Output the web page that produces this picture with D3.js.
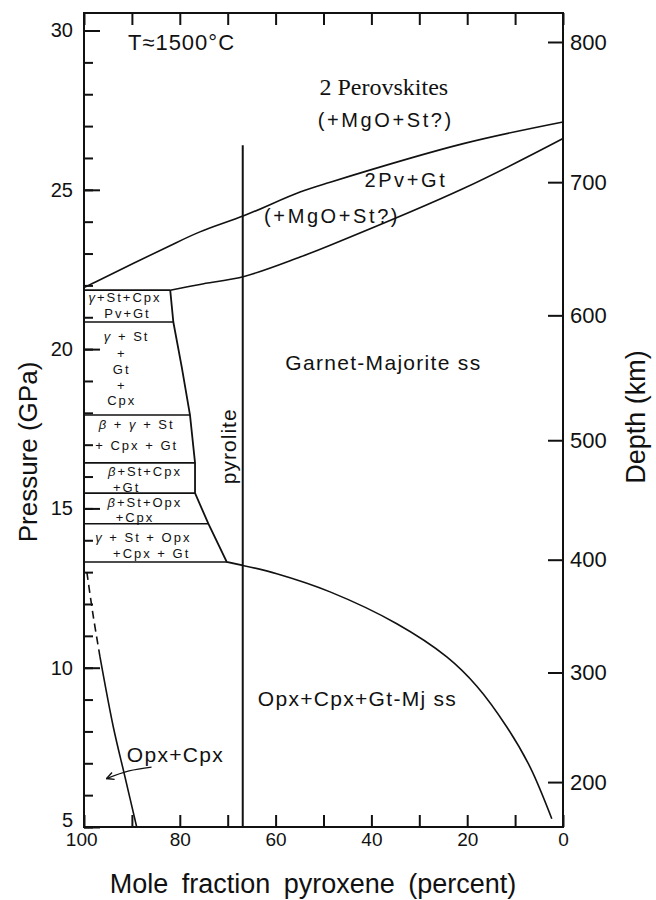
<!DOCTYPE html>
<html>
<head>
<meta charset="utf-8">
<script src="https://cdn.jsdelivr.net/npm/d3@7"></script>
<style>
  body { margin: 0; background: #fff; }
  svg { display: block; font-family: "Liberation Sans", Arial, Helvetica, sans-serif; }
</style>
</head>
<body>
<svg width="656" height="900"></svg>
<script>
// phase boundaries: x = mole % pyroxene, p = pressure (GPa)
const pvTopX = [100, 97.7, 82.7, 75.8, 66.4, 54.9, 48.6, 20.8, 0];
const pvTopP = [21.93, 22.10, 23.20, 23.68, 24.20, 24.93, 25.24, 26.45, 27.13];
const gtTopX = [82.0, 75.8, 66.4, 54.9, 48.6, 20.8, 0];
const gtTopP = [21.85, 22.03, 22.29, 22.89, 23.26, 25.04, 26.61];
const boxEdgeX = [82.0, 81.35, 79.6, 77.87, 76.82, 76.82, 74.04, 70.2, 66.86];
const boxEdgeP = [21.85, 20.85, 19.44, 17.93, 16.43, 15.48, 14.52, 13.32, 13.21];
const boxLineP = [21.85, 20.85, 17.93, 16.43, 15.48, 14.52, 13.32];
const opxGtX = [66.86, 59.76, 48.63, 34.70, 24.26, 17.99, 11.73, 6.87, 2.34];
const opxGtP = [13.21, 12.95, 12.38, 11.38, 10.34, 9.42, 8.14, 6.88, 5.26];
const cpxDashX = [99.4, 98.1, 96.66];
const cpxDashP = [13.0, 11.65, 10.34];
const cpxSolidX = [96.66, 93.88, 91.44, 89.0];
const cpxSolidP = [10.34, 8.14, 6.57, 5.0];
const pyroliteX = [66.86, 66.86];
const pyroliteP = [5, 26.4];
const arrowX = [85.9, 90.6, 95.3];
const arrowP = [6.88, 6.76, 6.52];

// axes
const xTicks = [100, 90, 80, 70, 60, 50, 40, 30, 20, 10, 0];
const xLabels = [100, 80, 60, 40, 20, 0];
const pMajor = [5, 10, 15, 20, 25, 30];
const depthKm = [200, 300, 400, 500, 600, 700, 800];
const depthP = [6.41, 9.85, 13.39, 17.14, 21.06, 25.24, 29.64];

// region labels
const regionText = ["T≈1500°C", "2 Perovskites", "(+MgO+St?)", "2Pv+Gt", "(+MgO+St?)",
                    "Garnet-Majorite ss", "Opx+Cpx+Gt-Mj ss", "Opx+Cpx"];
const regionX = [79.65, 37.4, 37.0, 32.8, 48.2, 37.5, 42.9, 80.9];
const regionP = [29.38, 27.97, 26.96, 25.08, 23.95, 19.33, 8.79, 7.04];
const regionKind = ["temp", "serif", "mid", "mid", "mid", "reg", "reg", "reg"];

const boxText = ["γ+St+Cpx", "Pv+Gt", "γ + St", "+", "Gt", "+", "Cpx", "β + γ + St", "+ Cpx + Gt",
                 "β+St+Cpx", "+Gt", "β+St+Opx", "+Cpx", "γ + St + Opx", "+Cpx + Gt"];
const boxX = [91.44, 90.92, 91.09, 92.13, 92.13, 92.13, 92.13, 89.0, 89.0, 87.27, 91.09, 87.27, 89.35, 87.62, 85.87];
const boxP = [21.49, 20.99, 20.24, 19.71, 19.21, 18.72, 18.24, 17.50, 16.82, 16.01, 15.53, 15.05, 14.58, 13.95, 13.45];

const svg = d3.select("svg");
const W = +svg.attr("width"), H = +svg.attr("height");
const margin = {top: 13, right: 93, bottom: 73, left: 84};

const x = d3.scaleLinear().domain([100, 0]).range([margin.left, W - margin.right]);
const y = d3.scaleLinear().domain([5, 30.55]).range([H - margin.bottom, margin.top]);

const ink = "#111";

// axes (ticks point inward)
function styleAxis(g, size) {
    g.attr("font-family", null).attr("font-size", size);
    g.select(".domain").remove();
    g.selectAll(".tick line").attr("stroke", ink).attr("stroke-width", 2);
    g.selectAll(".tick text").attr("fill", ink);
}

svg.append("g")
    .attr("transform", `translate(0,${y(5)})`)
    .call(d3.axisBottom(x).tickValues(xTicks)
        .tickFormat(d => xLabels.includes(d) ? d : "")
        .tickSize(-12).tickPadding(6))
    .call(g => styleAxis(g, 19))
    .call(g => g.selectAll(".tick text").filter(d => d === 100).attr("dx", "-0.15em"));

svg.append("g")
    .attr("transform", `translate(0,${y.range()[1]})`)
    .call(d3.axisTop(x).tickValues(xTicks).tickFormat("").tickSize(-12))
    .call(g => styleAxis(g, 19));

svg.append("g")
    .attr("transform", `translate(${x(100)},0)`)
    .call(d3.axisLeft(y).tickValues(d3.range(5, 31)).tickFormat("").tickSize(-9))
    .call(g => styleAxis(g, 20));

svg.append("g")
    .attr("transform", `translate(${x(100)},0)`)
    .call(d3.axisLeft(y).tickValues(pMajor).tickSize(-16).tickPadding(11))
    .call(g => styleAxis(g, 20))
    .call(g => g.selectAll(".tick text").filter(d => d === 5).attr("dy", "-0.05em"));

svg.append("g")
    .attr("transform", `translate(${x(0)},0)`)
    .call(d3.axisRight(y).tickValues(depthP)
        .tickFormat((d, i) => depthKm[i])
        .tickSize(-15).tickPadding(7))
    .call(g => styleAxis(g, 22));

// frame
svg.append("rect")
    .attr("x", x(100)).attr("y", y.range()[1])
    .attr("width", x(0) - x(100)).attr("height", y(5) - y.range()[1])
    .attr("fill", "none").attr("stroke", ink).attr("stroke-width", 2);

// boundaries
const straight = d3.line().x(d => x(d[0])).y(d => y(d[1]));
const smooth = d3.line().x(d => x(d[0])).y(d => y(d[1])).curve(d3.curveCatmullRom.alpha(0.5));
const edgeAt = d3.scaleLinear().domain(boxEdgeP).range(boxEdgeX);

const lines = svg.append("g").attr("fill", "none").attr("stroke", ink).attr("stroke-width", 1.6);

lines.append("path").attr("d", smooth(d3.zip(pvTopX, pvTopP)));
lines.append("path").attr("d", smooth(d3.zip(gtTopX, gtTopP)));
lines.append("path").attr("d", straight(d3.zip(boxEdgeX, boxEdgeP))).attr("stroke-width", 1.8);
lines.selectAll("path.box")
    .data(boxLineP)
    .join("path")
    .attr("class", "box")
    .attr("d", p => straight([[100, p], [edgeAt(p), p]]));
lines.append("path").attr("d", smooth(d3.zip(opxGtX, opxGtP)));
lines.append("path").attr("d", smooth(d3.zip(cpxDashX, cpxDashP))).attr("stroke-dasharray", "8,5");
lines.append("path").attr("d", smooth(d3.zip(cpxSolidX, cpxSolidP)));
lines.append("path").attr("d", straight(d3.zip(pyroliteX, pyroliteP))).attr("stroke-width", 2);

// arrow to the Opx+Cpx field
svg.append("defs").append("marker")
    .attr("id", "arr").attr("viewBox", "0 0 10 10")
    .attr("refX", 9).attr("refY", 5)
    .attr("markerWidth", 7).attr("markerHeight", 7)
    .attr("orient", "auto")
    .append("path")
    .attr("d", "M1,1 L9,5 L1,9")
    .attr("fill", "none").attr("stroke", ink).attr("stroke-width", 1.6);

lines.append("path")
    .attr("d", smooth(d3.zip(arrowX, arrowP)))
    .attr("stroke-width", 1.3)
    .attr("marker-end", "url(#arr)");

// labels
const kindStyle = {
    temp:  {size: 22, ls: 1, family: null},
    serif: {size: 24, ls: 0, family: "'Liberation Serif', 'Times New Roman', serif"},
    mid:   {size: 20, ls: 2.6, family: null},
    reg:   {size: 21, ls: 1.3, family: null}
};

svg.append("g")
    .selectAll("text")
    .data(regionText)
    .join("text")
    .attr("x", (d, i) => x(regionX[i]))
    .attr("y", (d, i) => y(regionP[i]))
    .attr("text-anchor", "middle")
    .attr("fill", ink)
    .attr("font-size", (d, i) => kindStyle[regionKind[i]].size)
    .attr("letter-spacing", (d, i) => kindStyle[regionKind[i]].ls)
    .attr("font-family", (d, i) => kindStyle[regionKind[i]].family)
    .text(d => d);

// small labels in the box, greek letters in italic
svg.append("g")
    .selectAll("text")
    .data(boxText)
    .join("text")
    .attr("x", (d, i) => x(boxX[i]))
    .attr("y", (d, i) => y(boxP[i]))
    .attr("text-anchor", "middle")
    .attr("fill", ink)
    .attr("font-size", 13)
    .attr("letter-spacing", 2)
    .each(function (d) {
        const t = d3.select(this);
        d.split(/([βγ])/).filter(s => s.length).forEach(s => {
            t.append("tspan")
                .attr("font-style", /[βγ]/.test(s) ? "italic" : null)
                .text(s);
        });
    });

svg.append("text")
    .attr("transform", `translate(${x(68.27)},${y(16.95)}) rotate(-90)`)
    .attr("text-anchor", "middle")
    .attr("font-size", 21).attr("letter-spacing", 1)
    .attr("fill", ink)
    .text("pyrolite");

// axis titles
svg.append("text")
    .attr("transform", "translate(37,452) rotate(-90)")
    .attr("text-anchor", "middle")
    .attr("font-size", 26).attr("fill", ink)
    .text("Pressure (GPa)");

svg.append("text")
    .attr("transform", "translate(645,417) rotate(-90)")
    .attr("text-anchor", "middle")
    .attr("font-size", 27).attr("fill", ink)
    .text("Depth (km)");

svg.append("text")
    .attr("x", 313).attr("y", 893)
    .attr("text-anchor", "middle")
    .attr("font-size", 27).attr("word-spacing", 6).attr("fill", ink)
    .text("Mole fraction pyroxene (percent)");
</script>
</body>
</html>
